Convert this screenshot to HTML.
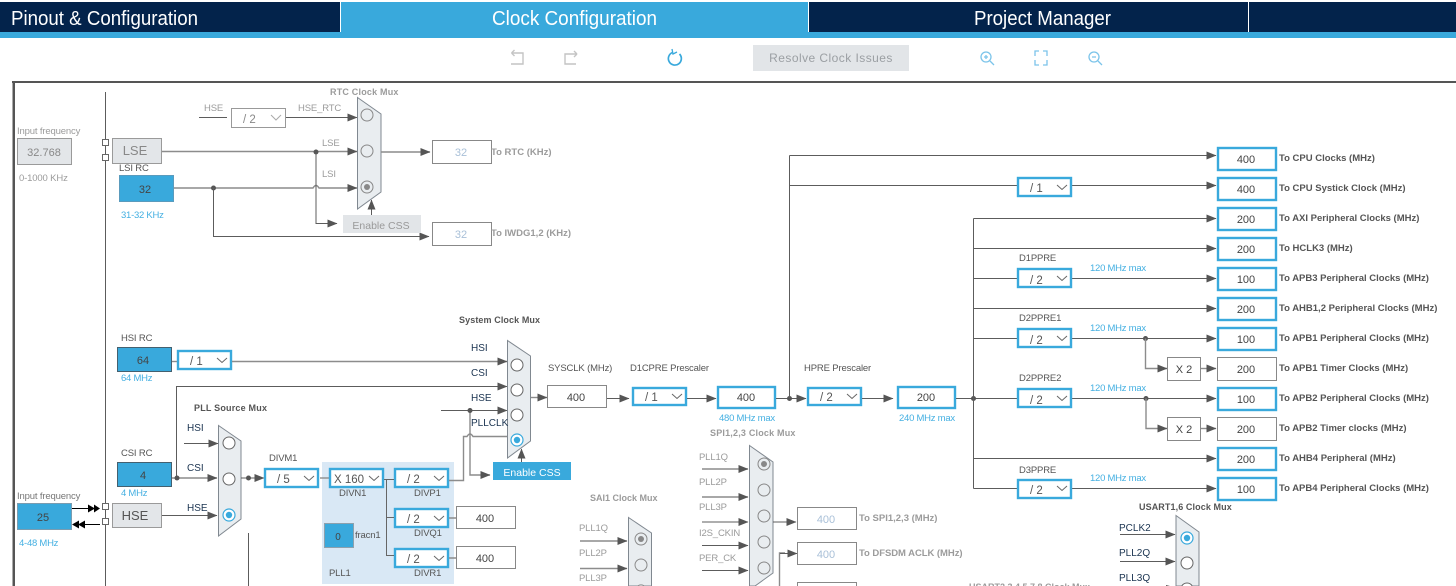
<!DOCTYPE html>
<html><head><meta charset="utf-8"><style>
html,body{margin:0;padding:0;background:#fff;width:1456px;height:586px;overflow:hidden}
svg{display:block;font-family:"Liberation Sans",sans-serif}
.w{stroke:#5c5c5c;stroke-width:1;fill:none}
.g{stroke:#8c8c8c;stroke-width:1.4;fill:none}
.a{marker-end:url(#ar)}
.lg{stroke:#888;stroke-width:1;fill:#fff}
.bb{stroke:#39a9dc;stroke-width:2.4;fill:#fff}
.bl{fill:#39a9dc;stroke:#44606f;stroke-width:1}
.gb{fill:#e3e6e9;stroke:#9a9a9a;stroke-width:1}
.m{fill:#e9edf0;stroke:#808890;stroke-width:1}
.c{fill:#fff;stroke:#666;stroke-width:1}
.cg{fill:#e9edf0;stroke:#888;stroke-width:1}
.cb{fill:#fff;stroke:#39a9dc;stroke-width:1.2}
text{font-size:9.5px;fill:#555;letter-spacing:-.15px}
.v{font-size:11px;text-anchor:middle;fill:#444;letter-spacing:0}
.sel{font-size:11.5px;fill:#555;letter-spacing:0}
.lab{fill:#555;font-weight:bold;font-size:9.5px;letter-spacing:0}
.t{fill:#1a3350;font-size:10px;letter-spacing:0}
.bt{fill:#45b0e2;font-size:9.5px;letter-spacing:-.25px}
.gt{fill:#9b9b9b;font-size:9.5px}
.gbd{fill:#9b9b9b;font-size:9.5px;font-weight:bold;letter-spacing:0}
.tab{fill:#fff;font-size:20px;text-anchor:middle;letter-spacing:0}
.dis{fill:#a9c0d8;font-size:11px;text-anchor:middle;letter-spacing:0}
.dot{fill:#555}
.chev{stroke:#666;fill:none;stroke-width:1}
.ic{stroke:#7cc4ea;fill:none;stroke-width:1.3}
.icg{stroke:#c4c4c4;fill:none;stroke-width:1.4}
</style></head><body>
<svg width="1456" height="586" viewBox="0 0 1456 586" xmlns="http://www.w3.org/2000/svg">
<defs>
<marker id="ar" markerUnits="userSpaceOnUse" markerWidth="10" markerHeight="9" refX="9.5" refY="4.5" orient="auto"><path d="M0 0.5L10 4.5L0 8.5Z" fill="#555"/></marker>
</defs>
<rect width="1456" height="586" fill="#fff"/>

<!-- header -->
<rect x="0" y="2" width="1456" height="30" fill="#03234b"/>
<rect x="0" y="32" width="1456" height="6" fill="#39a9dc"/>
<rect x="341" y="2" width="467" height="30" fill="#39a9dc"/>
<rect x="340" y="2" width="1" height="30" fill="#fff"/>
<rect x="808" y="2" width="1" height="30" fill="#fff"/>
<rect x="1248" y="2" width="1" height="30" fill="#fff"/>
<text class="tab" x="104.500" y="25" textLength="187" lengthAdjust="spacingAndGlyphs">Pinout &amp; Configuration</text>
<text class="tab" x="574.500" y="25" textLength="165" lengthAdjust="spacingAndGlyphs">Clock Configuration</text>
<text class="tab" x="1042.500" y="25" textLength="137" lengthAdjust="spacingAndGlyphs">Project Manager</text>

<!-- toolbar -->
<path class="icg" d="M511.500 53H523V64H511M511.500 53l3-3M511.500 53l3 3"/>
<path class="icg" d="M577 54H565V64H576M577 54l-3-3M577 54l-3 3"/>
<path d="M672.500 52.500A6.500 6.500 0 1 0 679.500 54" fill="none" stroke="#39a9dc" stroke-width="1.7"/>
<path d="M672 49l1 5 4-2" fill="none" stroke="#39a9dc" stroke-width="1.3"/>
<rect x="753" y="45" width="156" height="26" fill="#e2e5e8"/>
<text x="831" y="62" text-anchor="middle" style="font-size:12px;fill:#9b9fa3;letter-spacing:.45px">Resolve Clock Issues</text>
<circle class="ic" cx="986" cy="57" r="5"/><path class="ic" d="M990 61l4 4M984 57h4M986 55v4"/>
<path class="ic" d="M1035 56v-5h4M1043 51h4v5M1047 60v5h-4M1039 65h-4v-5"/>
<circle class="ic" cx="1094" cy="57" r="5"/><path class="ic" d="M1098 61l4 4M1092 57h4"/>

<!-- frame -->
<rect x="12" y="81" width="1444" height="2" fill="#555"/>
<rect x="12.500" y="81" width="2.500" height="505" fill="#555"/>
<path d="M105.500 92V586" class="w"/>

<!-- RTC area -->
<text class="gt" x="17" y="134">Input frequency</text>
<rect class="gb" x="17.500" y="138.500" width="54" height="26"/>
<text class="v" x="44" y="156" style="fill:#888">32.768</text>
<text class="gt" x="19" y="181">0-1000 KHz</text>
<rect x="102.500" y="139.500" width="6" height="6" fill="#fff" stroke="#666"/>
<rect x="102.500" y="154.500" width="6" height="6" fill="#fff" stroke="#666"/>
<rect class="gb" x="112.500" y="138.500" width="49" height="25"/>
<text x="135" y="155" text-anchor="middle" style="font-size:13px;fill:#888;letter-spacing:0">LSE</text>
<text x="119" y="171">LSI RC</text>
<rect class="bl" x="119.500" y="175.500" width="54" height="26" style="stroke:#5a9bbd"/>
<text class="v" x="145" y="193">32</text>
<text class="bt" x="121" y="218">31-32 KHz</text>

<text class="gt" x="204" y="111">HSE</text>
<path class="w" d="M199 117.500H227"/>
<rect class="lg" x="231.500" y="108.500" width="54" height="19" style="stroke:#999"/>
<text class="sel" x="243" y="123" style="fill:#888">/ 2</text>
<path class="chev" d="M271 115l5 5 5-5" style="stroke:#aaa"/>
<text class="gt" x="298" y="111">HSE_RTC</text>
<path class="w a" d="M286 117.500H357"/>
<text class="gt" x="322" y="146">LSE</text>
<path class="g a" d="M162 151.500H357"/>
<text class="gt" x="322" y="177">LSI</text>
<path class="g a" d="M174 188H313q3 -5 6 0H357"/>
<circle class="dot" cx="316" cy="152" r="2.500"/>
<circle class="dot" cx="213.500" cy="188" r="2.500"/>
<path class="w a" d="M316 152V223.500H337"/>
<path class="w a" d="M213.500 188V236.500H429"/>
<polygon class="m" points="357.500,97.500 381,114 381,192 357.500,209"/>
<circle class="cg" cx="367" cy="115" r="6"/><circle class="cg" cx="367" cy="151" r="6"/><circle class="cg" cx="367" cy="187" r="6"/><circle cx="367" cy="187" r="3" fill="#888"/>
<text class="gbd" x="330" y="95" style="font-size:9px;letter-spacing:.2px">RTC Clock Mux</text>
<path class="w a" d="M371.500 215V200"/>
<rect x="343" y="215" width="78" height="18" fill="#e2e5e8"/>
<text x="381" y="229" text-anchor="middle" style="font-size:10.500px;fill:#999;letter-spacing:0">Enable CSS</text>
<path class="g a" d="M381 152H430"/>
<rect class="lg" x="432.500" y="140.500" width="59" height="23"/>
<text class="dis" x="461" y="156">32</text>
<text class="gbd" x="491" y="155">To RTC (KHz)</text>
<rect class="lg" x="432.500" y="222.500" width="59" height="23"/>
<text class="dis" x="461" y="238">32</text>
<text class="gbd" x="491" y="236">To IWDG1,2 (KHz)</text>

<!-- HSI CSI -->
<text x="121" y="341">HSI RC</text>
<rect class="bl" x="117.500" y="347.500" width="54" height="24"/>
<text class="v" x="143" y="364">64</text>
<text class="bt" x="121" y="381">64 MHz</text>
<path class="g" d="M172 361.500H177"/>
<rect class="bb" x="178" y="351" width="53" height="18"/>
<text class="sel" x="190" y="365">/ 1</text><path class="chev" d="M217 358l5 4.500 5-4.500"/>
<path class="g a" d="M232 361.500H507"/>
<path class="w a" d="M176.500 478V386.500H507"/>

<text x="121" y="456">CSI RC</text>
<rect class="bl" x="117.500" y="462.500" width="54" height="24"/>
<text class="v" x="143" y="479">4</text>
<text class="bt" x="121" y="496">4 MHz</text>
<path class="g a" d="M172 478H217"/>
<circle class="dot" cx="177" cy="478" r="2.500"/>

<text x="17" y="499" class="gt" style="fill:#777">Input frequency</text>
<rect class="bl" x="17.500" y="503.500" width="54" height="26" style="stroke:#7a9cb0"/>
<text class="v" x="43" y="521">25</text>
<text class="bt" x="19" y="546">4-48 MHz</text>
<path d="M72 508.500H98" stroke="#000"/><path d="M88 504.500l7 4-7 4ZM94 504.500l6 4-6 4Z" fill="#000"/>
<path d="M100 524.500H78" stroke="#000"/><path d="M79 520.500l-7 4 7 4ZM85 520.500l-7 4 7 4Z" fill="#000"/>
<rect x="102.500" y="503.500" width="6" height="6" fill="#fff" stroke="#666"/>
<rect x="102.500" y="518.500" width="6" height="6" fill="#fff" stroke="#666"/>
<rect class="gb" x="112.500" y="503.500" width="49" height="24"/>
<text x="135" y="520" text-anchor="middle" style="font-size:13px;fill:#555;letter-spacing:0">HSE</text>
<path class="w a" d="M162 515.500H217"/>
<path class="w a" d="M184 443.500H218"/>

<text class="lab" x="194" y="411" style="font-size:9px;letter-spacing:.2px">PLL Source Mux</text>
<text class="t" x="187" y="431">HSI</text>
<text class="t" x="187" y="471">CSI</text>
<text class="t" x="187" y="511">HSE</text>
<polygon class="m" points="218.500,425.500 241,441 241,519 218.500,536"/>
<circle class="c" cx="229" cy="443" r="6"/><circle class="c" cx="229" cy="479" r="6"/><circle class="cb" cx="229" cy="515" r="6"/><circle cx="229" cy="515" r="3.200" fill="#39a9dc"/>
<path class="w a" d="M241 478H264"/><circle class="dot" cx="248.500" cy="478" r="2.500"/>
<path class="w" d="M248.500 533V586"/>

<!-- PLL panel -->
<rect x="322" y="462" width="132" height="122" fill="#d9e8f5"/>
<text x="269" y="461">DIVM1</text>
<rect class="bb" x="265" y="469" width="53" height="18"/>
<text class="sel" x="277" y="483">/ 5</text><path class="chev" d="M304 476l5 4.500 5-4.500"/>
<path class="g" d="M320 478H329"/>
<rect class="bb" x="330" y="469" width="53" height="18"/>
<text class="sel" x="334" y="483">X 160</text><path class="chev" d="M369 476l5 4.500 5-4.500"/>
<rect class="bb" x="395" y="469" width="53" height="18"/>
<text class="sel" x="407" y="483">/ 2</text><path class="chev" d="M434 476l5 4.500 5-4.500"/>
<rect class="bb" x="395" y="509" width="53" height="18"/>
<text class="sel" x="407" y="523">/ 2</text><path class="chev" d="M434 516l5 4.500 5-4.500"/>
<rect class="bb" x="395" y="549" width="53" height="18"/>
<text class="sel" x="407" y="563">/ 2</text><path class="chev" d="M434 556l5 4.500 5-4.500"/>
<path class="w" d="M384 479.500H394M386.500 479.500V555.500H394M386.500 517.500H394" style="stroke:#666"/>
<path class="g" d="M449 518H456M449 558H456"/>
<text x="339" y="496">DIVN1</text>
<text x="414" y="496">DIVP1</text>
<text x="414" y="536">DIVQ1</text>
<text x="414" y="576">DIVR1</text>
<text x="329" y="576">PLL1</text>
<rect x="324.500" y="523.500" width="29" height="24" fill="#39a9dc" stroke="#8ca0ad"/>
<text class="v" x="338" y="540" style="font-size:10px">0</text>
<text x="355" y="538">fracn1</text>
<rect class="lg" x="456.500" y="506.500" width="59" height="22"/><text class="v" x="485" y="522">400</text>
<rect class="lg" x="456.500" y="546.500" width="59" height="22"/><text class="v" x="485" y="562">400</text>

<!-- System mux -->
<path class="g" d="M449 480.500H463.500V436.500H467q3 -5 6 0H507"/>
<path class="g a" d="M470 411V475H490"/>
<path class="w a" d="M441 410.500H507"/>
<circle class="dot" cx="470" cy="410.500" r="2.500"/>
<polygon class="m" points="507.500,340.500 530.500,356 530.500,441 507.500,458"/>
<circle class="c" cx="517" cy="365" r="6"/><circle class="c" cx="517" cy="390" r="6"/><circle class="c" cx="517" cy="415" r="6"/><circle class="cb" cx="517" cy="440" r="6"/><circle cx="517" cy="440" r="3.200" fill="#39a9dc"/>
<text class="lab" x="459" y="323" style="font-size:9px;letter-spacing:.1px">System Clock Mux</text>
<text class="t" x="471" y="351">HSI</text><text class="t" x="471" y="376">CSI</text><text class="t" x="471" y="401">HSE</text><text class="t" x="471" y="426">PLLCLK</text>
<path class="w a" d="M521.500 462V449"/>
<rect x="493" y="462" width="78" height="18" fill="#39a9dc"/>
<text x="532" y="476" text-anchor="middle" style="font-size:10.500px;fill:#fff;letter-spacing:0">Enable CSS</text>
<path class="g a" d="M531 397.500H547"/>
<rect class="lg" x="547.500" y="385.500" width="59" height="22"/><text class="v" x="576" y="401">400</text>
<text x="548" y="371">SYSCLK (MHz)</text>
<text x="630" y="371">D1CPRE Prescaler</text>
<text x="804" y="371">HPRE Prescaler</text>
<path class="w a" d="M607 398.500H629"/>
<rect class="bb" x="633" y="388" width="53" height="17"/><text class="sel" x="645" y="401">/ 1</text><path class="chev" d="M672 394l5 4.500 5-4.500"/>
<path class="w a" d="M687 398.500H716"/>
<rect class="bb" x="718" y="387" width="57" height="21"/><text class="v" x="746" y="401">400</text>
<text class="bt" x="719" y="421">480 MHz max</text>
<path class="w a" d="M776 398.500H806"/>
<circle class="dot" cx="789.500" cy="398.500" r="2.500"/>
<rect class="bb" x="808" y="388" width="53" height="17"/><text class="sel" x="820" y="401">/ 2</text><path class="chev" d="M847 394l5 4.500 5-4.500"/>
<path class="w a" d="M862 398.500H893"/>
<rect class="bb" x="898" y="387" width="57" height="21"/><text class="v" x="926" y="401">200</text>
<text class="bt" x="899" y="421">240 MHz max</text>
<path class="w" d="M956 398.500H1017"/>
<circle class="dot" cx="973.500" cy="398.500" r="2.500"/>

<!-- right bus -->
<path class="w" d="M789.500 398V155.500"/>
<path class="w a" d="M789.500 155.500H1216"/>
<path class="w" d="M789.500 185.500H1018"/>
<path class="w a" d="M1072 185.500H1216"/>
<rect class="bb" x="1018" y="178" width="53" height="18"/><text class="sel" x="1030" y="192">/ 1</text><path class="chev" d="M1057 185l5 4.500 5-4.500"/>
<path class="w" d="M973.500 218.500V488.500"/>
<path class="w a" d="M973.500 218.500H1216"/>
<path class="w a" d="M973.500 248.500H1216"/>
<path class="w" d="M973.500 278.500H1018"/><path class="w a" d="M1072 278.500H1216"/>
<path class="w a" d="M973.500 308.500H1216"/>
<path class="w" d="M973.500 338.500H1018"/><path class="w a" d="M1072 338.500H1216"/>
<path class="w a" d="M1072 398.500H1216"/>
<path class="w a" d="M973.500 458.500H1216"/>
<path class="w" d="M973.500 488.500H1018"/><path class="w a" d="M1072 488.500H1216"/>
<rect class="bb" x="1018" y="269" width="53" height="18"/><text class="sel" x="1030" y="284">/ 2</text><path class="chev" d="M1057 276l5 4.500 5-4.500"/>
<rect class="bb" x="1018" y="329" width="53" height="18"/><text class="sel" x="1030" y="344">/ 2</text><path class="chev" d="M1057 336l5 4.500 5-4.500"/>
<rect class="bb" x="1018" y="389" width="53" height="18"/><text class="sel" x="1030" y="404">/ 2</text><path class="chev" d="M1057 396l5 4.500 5-4.500"/>
<rect class="bb" x="1018" y="480" width="53" height="18"/><text class="sel" x="1030" y="494">/ 2</text><path class="chev" d="M1057 486l5 4.500 5-4.500"/>
<text x="1019" y="261">D1PPRE</text><text class="bt" x="1090" y="271">120 MHz max</text>
<text x="1019" y="321">D2PPRE1</text><text class="bt" x="1090" y="331">120 MHz max</text>
<text x="1019" y="381">D2PPRE2</text><text class="bt" x="1090" y="391">120 MHz max</text>
<text x="1019" y="473">D3PPRE</text><text class="bt" x="1090" y="481">120 MHz max</text>
<circle class="dot" cx="1145.500" cy="338.500" r="2.500"/><circle class="dot" cx="1146" cy="398.500" r="2.500"/>
<path class="g a" d="M1145.500 338.500V368.500H1167"/><path class="g a" d="M1146 398.500V428.500H1167"/>
<rect class="lg" x="1167.500" y="357.500" width="33" height="23"/><text class="v" x="1184" y="373">X 2</text>
<rect class="lg" x="1167.500" y="417.500" width="33" height="23"/><text class="v" x="1184" y="433">X 2</text>
<path class="g a" d="M1201 368.500H1216"/><path class="g a" d="M1201 428.500H1216"/>

<rect class="bb" x="1218" y="148" width="58" height="22"/><text class="v" x="1246" y="163">400</text><text class="lab" x="1279" y="161">To CPU Clocks (MHz)</text>
<rect class="bb" x="1218" y="178" width="58" height="22"/><text class="v" x="1246" y="193">400</text><text class="lab" x="1279" y="191">To CPU Systick Clock (MHz)</text>
<rect class="bb" x="1218" y="208" width="58" height="22"/><text class="v" x="1246" y="223">200</text><text class="lab" x="1279" y="221">To AXI Peripheral Clocks (MHz)</text>
<rect class="bb" x="1218" y="238" width="58" height="22"/><text class="v" x="1246" y="253">200</text><text class="lab" x="1279" y="251">To HCLK3 (MHz)</text>
<rect class="bb" x="1218" y="268" width="58" height="22"/><text class="v" x="1246" y="283">100</text><text class="lab" x="1279" y="281">To APB3 Peripheral Clocks (MHz)</text>
<rect class="bb" x="1218" y="298" width="58" height="22"/><text class="v" x="1246" y="313">200</text><text class="lab" x="1279" y="311">To AHB1,2 Peripheral Clocks (MHz)</text>
<rect class="bb" x="1218" y="328" width="58" height="22"/><text class="v" x="1246" y="343">100</text><text class="lab" x="1279" y="341">To APB1 Peripheral Clocks (MHz)</text>
<rect class="lg" x="1217.500" y="357.500" width="59" height="23"/><text class="v" x="1246" y="373">200</text><text class="lab" x="1279" y="371">To APB1 Timer Clocks (MHz)</text>
<rect class="bb" x="1218" y="388" width="58" height="22"/><text class="v" x="1246" y="403">100</text><text class="lab" x="1279" y="401">To APB2 Peripheral Clocks (MHz)</text>
<rect class="lg" x="1217.500" y="417.500" width="59" height="23"/><text class="v" x="1246" y="433">200</text><text class="lab" x="1279" y="431">To APB2 Timer clocks (MHz)</text>
<rect class="bb" x="1218" y="448" width="58" height="22"/><text class="v" x="1246" y="463">200</text><text class="lab" x="1279" y="461">To AHB4 Peripheral (MHz)</text>
<rect class="bb" x="1218" y="478" width="58" height="22"/><text class="v" x="1246" y="493">100</text><text class="lab" x="1279" y="491">To APB4 Peripheral Clocks (MHz)</text>

<!-- SAI1 -->
<text class="gbd" x="590" y="501" style="font-size:9px">SAI1 Clock Mux</text>
<text class="gt" x="579" y="531">PLL1Q</text><text class="gt" x="579" y="556">PLL2P</text><text class="gt" x="579" y="581">PLL3P</text>
<path class="g a" d="M580 541H627"/><path class="g a" d="M580 568.500H627"/>
<path class="m" d="M628.500 517.500L651.500 533V586H628.500Z"/>
<circle class="cg" cx="641" cy="539" r="6"/><circle cx="641" cy="539" r="3" fill="#888"/><circle class="cg" cx="641" cy="565" r="6"/>
<path class="cg" d="M637.700 586A6 6 0 0 1 644.300 586"/>

<!-- SPI -->
<text class="gbd" x="710" y="436" style="font-size:9px;letter-spacing:.2px">SPI1,2,3 Clock Mux</text>
<text class="gt" x="699" y="460">PLL1Q</text><text class="gt" x="699" y="485">PLL2P</text><text class="gt" x="699" y="510">PLL3P</text><text class="gt" x="699" y="536">I2S_CKIN</text><text class="gt" x="699" y="561">PER_CK</text>
<path class="g a" d="M702 469H748"/><path class="g a" d="M702 497H748"/><path class="w a" d="M702 522H748"/><path class="w a" d="M702 545.500H748"/><path class="w a" d="M702 570.500H748"/>
<path class="m" d="M749.500 445.500L773 462V573L755 586H749.500Z"/>
<circle class="cg" cx="764" cy="464" r="6"/><circle cx="764" cy="464" r="3" fill="#888"/><circle class="cg" cx="764" cy="490" r="6"/><circle class="cg" cx="764" cy="516" r="6"/><circle class="cg" cx="764" cy="542" r="6"/><circle class="cg" cx="764" cy="568" r="6"/>
<path class="w a" d="M773 522H796"/>
<path class="g" d="M779.500 586V553H785"/><path class="w a" d="M780 553.500H797"/>
<rect class="lg" x="797.500" y="507.500" width="59" height="22"/><text class="dis" x="826" y="523">400</text>
<text class="gbd" x="859" y="521">To SPI1,2,3 (MHz)</text>
<rect class="lg" x="797.500" y="542.500" width="59" height="22"/><text class="dis" x="826" y="558">400</text>
<text class="gbd" x="859" y="556" style="letter-spacing:-.05px">To DFSDM ACLK (MHz)</text>
<path class="lg" d="M797.500 586V582.500H856.500V586"/>
<svg x="969" y="580" width="130" height="6"><text class="gbd" x="0" y="10" style="font-size:9px">USART2,3,4,5,7,8 Clock Mux</text></svg>

<!-- USART1,6 -->
<text class="lab" x="1139" y="510" style="font-size:9px;letter-spacing:.1px">USART1,6 Clock Mux</text>
<text class="t" x="1119" y="531">PCLK2</text><text class="t" x="1119" y="556">PLL2Q</text><text class="t" x="1119" y="581">PLL3Q</text>
<path class="w a" d="M1120 534.500H1175"/><path class="w a" d="M1120 561.500H1175"/>
<path d="M1166 585L1170 586H1166Z" fill="#555"/>
<path class="m" d="M1176 515.500L1199 532V586H1176Z"/>
<circle class="cb" cx="1187" cy="538" r="6"/><circle cx="1187" cy="538" r="3.200" fill="#39a9dc"/>
<circle class="c" cx="1187" cy="563" r="6"/>
<path class="c" d="M1181.800 586A6 6 0 0 1 1192.200 586"/>
</svg>
</body></html>
